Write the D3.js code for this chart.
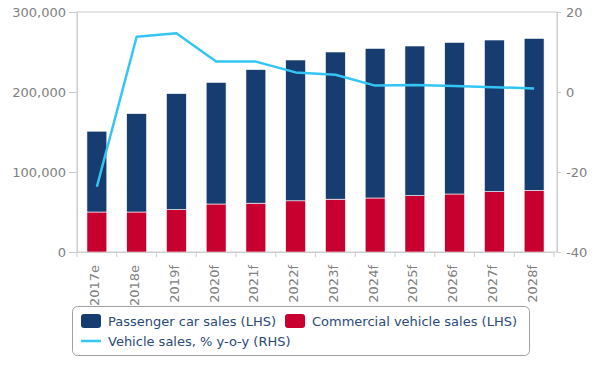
<!DOCTYPE html>
<html>
<head>
<meta charset="utf-8">
<script src="https://cdn.jsdelivr.net/npm/d3@7"></script>
<style>
  body { margin: 0; background: #fff; }
  svg { font-family: "DejaVu Sans", sans-serif; }
</style>
</head>
<body>
<div id="chart"></div>
<script>
// data
var years = ["2017e","2018e","2019f","2020f","2021f","2022f","2023f","2024f","2025f","2026f","2027f","2028f"];
var commercial = [50000, 50000, 53000, 60000, 61000, 64000, 66000, 67500, 70500, 72500, 75500, 77000];
var totals = [151000, 173000, 198000, 212000, 228000, 240000, 250000, 254500, 257500, 262000, 265000, 267000];
var passenger = totals.map(function(t, i){ return t - commercial[i]; });
var yoy = [-23.7, 13.8, 14.7, 7.6, 7.6, 4.9, 4.3, 1.6, 1.75, 1.5, 1.2, 0.9];
var leftTicks = [0, 100000, 200000, 300000];
var rightTicks = [-40, -20, 0, 20];

var W = 600, H = 375;
var m = {left: 77, right: 43, top: 12, bottom: 123};
var iw = W - m.left - m.right, ih = H - m.top - m.bottom;

var svg = d3.select("#chart").append("svg").attr("width", W).attr("height", H);

var g = svg.append("g").attr("transform", "translate(" + m.left + "," + m.top + ")");

var x = d3.scaleBand().domain(years).range([0, iw - 3]).paddingInner(0.5).paddingOuter(0.25);
var yL = d3.scaleLinear().domain([0, 300000]).range([ih, 0]);
var yR = d3.scaleLinear().domain([-40, 20]).range([ih, 0]);

// plot frame
g.append("rect").attr("x", 0).attr("y", 0).attr("width", iw).attr("height", ih)
    .attr("fill", "none").attr("stroke", "#cccccc");

// stacked bars
var stack = d3.stack().keys(["commercial", "passenger"]);
var rows = years.map(function(y, i){ return {year: y, commercial: commercial[i], passenger: passenger[i]}; });
var colors = {commercial: "#c8002f", passenger: "#173d70"};

g.selectAll("g.layer").data(stack(rows)).enter().append("g")
    .attr("class", "layer")
    .attr("fill", function(d){ return colors[d.key]; })
  .selectAll("rect").data(function(d){ return d; }).enter().append("rect")
    .attr("x", function(d){ return x(d.data.year); })
    .attr("width", x.bandwidth())
    .attr("y", function(d){ return yL(d[1]); })
    .attr("height", function(d){ return yL(d[0]) - yL(d[1]); })
    .attr("stroke", "#fff").attr("stroke-width", 0.6);

// axes
var axL = g.append("g").call(d3.axisLeft(yL).tickValues(leftTicks).tickSize(8).tickPadding(3).tickFormat(d3.format(",")));
var axR = g.append("g").attr("transform", "translate(" + iw + ",0)")
    .call(d3.axisRight(yR).tickValues(rightTicks).tickSize(4).tickPadding(5).tickFormat(function(d){ return d; }));
var axB = g.append("g").attr("transform", "translate(0," + ih + ")")
    .call(d3.axisBottom(x).tickSize(0).tickPadding(12));

[axL, axR, axB].forEach(function(a){
  a.select(".domain").attr("stroke", "#cccccc");
  a.selectAll(".tick line").attr("stroke", "#cccccc");
  a.selectAll(".tick text").attr("fill", "#808080").style("font-size", "13px").style("font-family", "DejaVu Sans");
});

axB.selectAll(".tick text")
    .attr("transform", "rotate(-90)")
    .attr("text-anchor", "end")
    .attr("x", -13).attr("y", -2).attr("dy", "0.35em");

// bottom ticks at band edges
var step = x.step();
var x0 = x(years[0]) - step * x.paddingOuter() * 2 + step * 0.25;
g.append("g").selectAll("line").data(d3.range(years.length + 1)).enter().append("line")
    .attr("x1", function(i){ return x0 + i * step; }).attr("x2", function(i){ return x0 + i * step; })
    .attr("y1", ih).attr("y2", ih + 5)
    .attr("stroke", "#cccccc");

// y-o-y line
var line = d3.line()
    .x(function(d, i){ return x(years[i]) + x.bandwidth() / 2; })
    .y(function(d){ return yR(d); });
g.append("path").datum(yoy).attr("d", line)
    .attr("fill", "none").attr("stroke", "#33c5f3").attr("stroke-width", 2.5)
    .attr("stroke-linejoin", "round");

// legend
var lg = svg.append("g").attr("transform", "translate(72,306)");
lg.append("rect").attr("x", 0.5).attr("y", 0.5).attr("width", 457).attr("height", 49)
    .attr("rx", 5).attr("fill", "#fff").attr("stroke", "#a0a0a0");

var legendItems = [
  {label: "Passenger car sales (LHS)", color: colors.passenger, kind: "box", x: 9, y: 15},
  {label: "Commercial vehicle sales (LHS)", color: colors.commercial, kind: "box", x: 213, y: 15},
  {label: "Vehicle sales, % y-o-y (RHS)", color: "#33c5f3", kind: "line", x: 9, y: 35}
];
legendItems.forEach(function(it){
  if (it.kind === "box") {
    lg.append("rect").attr("x", it.x).attr("y", it.y - 7).attr("width", 20).attr("height", 14)
      .attr("rx", 3).attr("fill", it.color);
  } else {
    lg.append("line").attr("x1", it.x).attr("x2", it.x + 20).attr("y1", it.y).attr("y2", it.y)
      .attr("stroke", it.color).attr("stroke-width", 2.5);
  }
  lg.append("text").attr("x", it.x + 27).attr("y", it.y).attr("dy", "0.36em")
    .attr("fill", "#2b4a78").style("font-size", "13px").text(it.label);
});
</script>
</body>
</html>
